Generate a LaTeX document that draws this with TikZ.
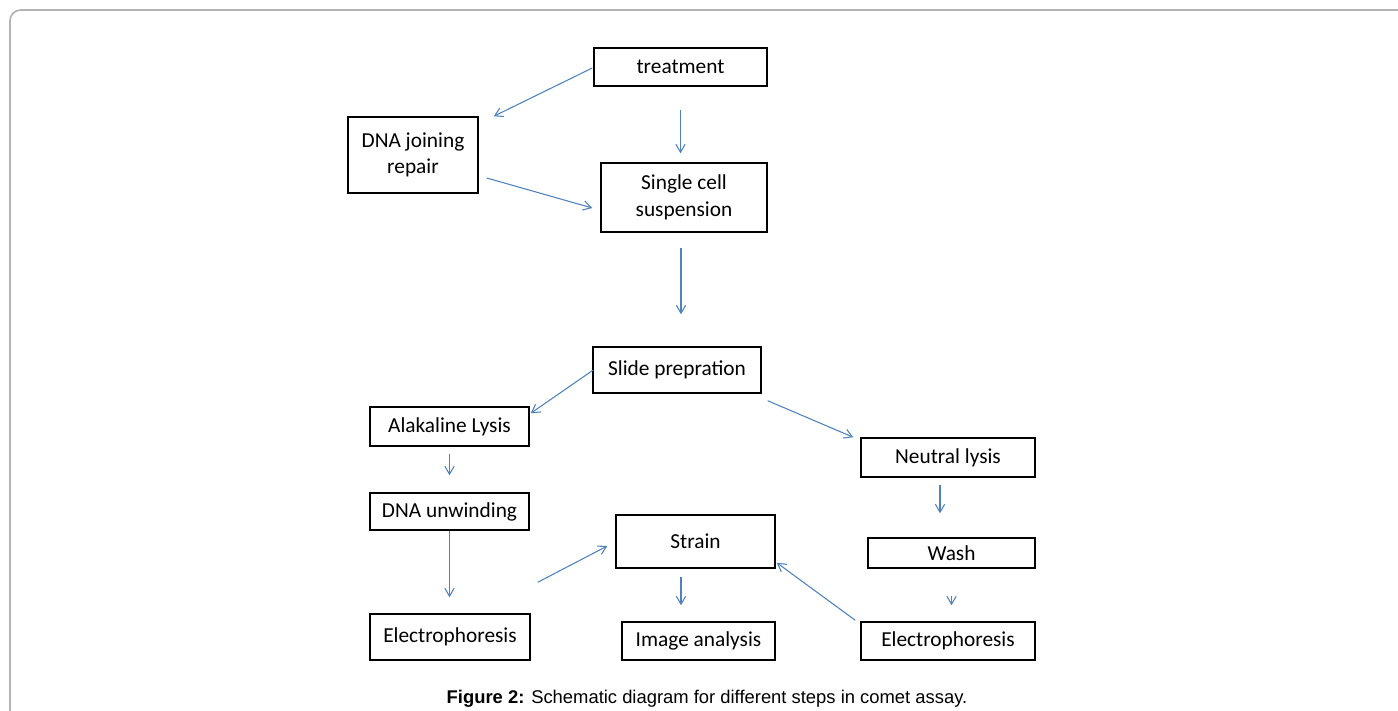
\documentclass[tikz,border=0pt]{standalone}
\usepackage{fontspec}
\setmainfont{Carlito}
\newfontfamily\capfont{Liberation Sans}
\usetikzlibrary{arrows.meta,calc}
\definecolor{arrblue}{HTML}{4F81BD}
\definecolor{framegray}{HTML}{B4B4B4}
\begin{document}
\begin{tikzpicture}[x=0.75pt,y=-0.75pt,
  stepbox/.style n args={2}{draw=black,line width=1.1pt,rectangle,inner sep=0pt,
    minimum width=#1*0.75pt,minimum height=#2*0.75pt,align=center,
    font=\fontsize{16}{20}\selectfont},
  arr/.style={draw=arrblue,line width=0.8pt,-{Straight Barb[length=6pt,width=7pt]}},
  plain/.style={draw=arrblue,line width=0.8pt}]
\useasboundingbox (0,0) rectangle (1398,710);
\draw[framegray,line width=1.3pt,rounded corners=8] (10,715) -- (10,10) -- (1405,10);

\node[stepbox={173}{38}] (treat) at (680.5,67) {treatment};
\node[stepbox={130}{76}] (dna) at (413,155) {DNA joining\\repair};
\node[stepbox={166}{69}] (single) at (684,197.5) {Single cell\\suspension};
\node[stepbox={168}{46}] (slide) at (677,370) {Slide prepration};
\node[stepbox={159}{39}] (alk) at (449.5,426.5) {Alakaline Lysis};
\node[stepbox={159}{37}] (unw) at (449.5,511.5) {DNA unwinding};
\node[stepbox={160}{46}] (elecL) at (450,637) {Electrophoresis};
\node[stepbox={159}{53}] (strain) at (695.5,541.5) {Strain};
\node[stepbox={153}{38}] (image) at (698.5,641) {Image analysis};
\node[stepbox={174}{39}] (neutral) at (948,457.5) {Neutral lysis};
\node[stepbox={167}{30}] (wash) at (951.5,553) {Wash};
\node[stepbox={174}{38}] (elecR) at (948,641) {Electrophoresis};

\draw[arr] ($(treat.west)+(-1,1)$) -- ($(dna.north east)+(15,0)$);
\draw[arr] ($(treat.south)+(0,23)$) -- ($(treat.south |- single.north)+(0,-9)$);
\draw[arr] ($(dna.east)+(8,23)$) -- ($(single.west)+(-8,10.5)$);
\draw[arr] ($(single.south)+(-3,15)$) -- ($(single.south |- slide.north)+(-3,-32)$);
\draw[arr] ($(slide.west)+(1,0)$) -- ($(alk.north east)+(1,7)$);
\draw[arr] ($(slide.south east)+(6,7)$) -- ($(neutral.north west)+(-7,0)$);
\draw[arr] ($(alk.south)+(0,7)$) -- ($(alk.south |- unw.north)+(0,-17)$);
\draw[arr] (unw.south) -- ($(elecL.north)+(-0.5,-16)$);
\draw[arr] ($(elecL.north east)+(7,-31)$) -- ($(strain.west)+(-8,4.5)$);
\draw[arr] ($(strain.south)+(-14.5,8)$) -- ($(strain.south |- image.north)+(-14.5,-16)$);
\draw[arr] ($(neutral.south)+(-8,7)$) -- ($(neutral.south |- wash.north)+(-8,-24)$);
\draw[arr] ($(wash.south)+(0,27)$) -- ($(wash.south |- elecR.north)+(0,-16)$);
\draw[arr] ($(elecR.north west)+(-5,-1)$) -- ($(strain.south east)+(1,-6)$);

\node[anchor=base,inner sep=0pt,font=\capfont\fontsize{13.8}{16}\selectfont] (cap) at (707,703)
  {\textbf{Figure 2:} Schematic diagram for different steps in comet assay.};
\end{tikzpicture}
\end{document}
